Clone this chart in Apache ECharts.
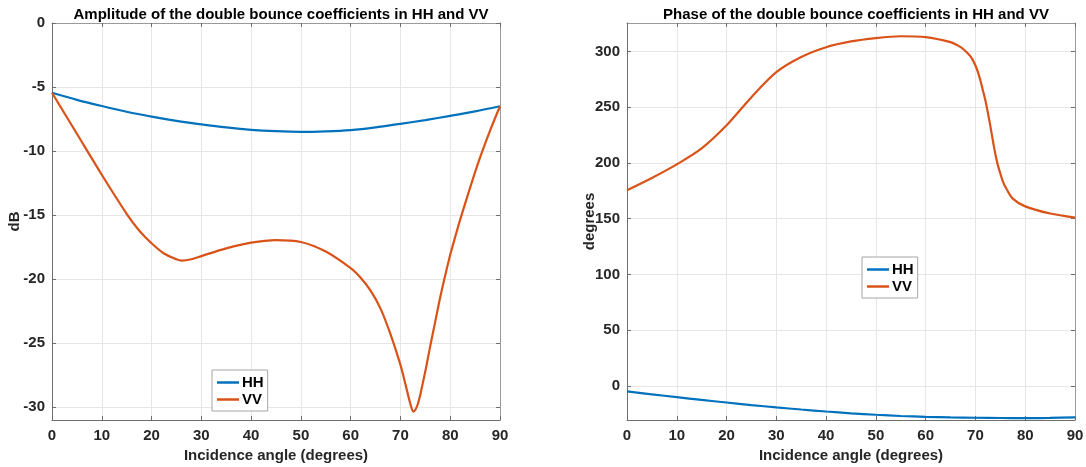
<!DOCTYPE html>
<html>
<head>
<meta charset="utf-8">
<script src="https://cdn.jsdelivr.net/npm/echarts@6/dist/echarts.min.js"></script>
<style>
  html, body { margin: 0; padding: 0; background: #fff; }
  #chart { width: 1086px; height: 467px; }
</style>
</head>
<body>
<div id="chart"></div>
<script>
// Double bounce coefficients versus incidence angle (degrees)

// Amplitude (dB)
const ampHHAngle = [0, 5, 10, 15, 20, 25, 30, 35, 40, 45, 50, 55, 60, 65, 70, 75, 80, 85, 90];
const ampHH = [-5.45, -6.0, -6.48, -6.93, -7.31, -7.64, -7.91, -8.15, -8.34, -8.45, -8.5, -8.46, -8.36, -8.15, -7.87, -7.58, -7.25, -6.9, -6.5];
const ampVVAngle = [0, 5, 10, 15, 17.5, 20, 22.5, 25, 26, 28, 30, 35, 40, 45, 50, 55, 60, 62, 64, 66, 68, 70, 71, 72, 72.6, 73, 73.5, 74, 74.5, 75, 75.5, 76, 77, 78, 79, 80, 81, 82, 84, 86, 88, 90];
const ampVV = [-5.45, -8.65, -11.85, -14.9, -16.2, -17.2, -18.0, -18.45, -18.55, -18.45, -18.2, -17.6, -17.15, -16.95, -17.1, -17.85, -19.15, -19.9, -20.9, -22.3, -24.3, -26.7, -28.2, -29.75, -30.35, -30.2, -29.75, -29.0, -28.1, -27.2, -26.2, -25.2, -23.3, -21.4, -19.7, -18.1, -16.7, -15.35, -12.85, -10.5, -8.4, -6.5];

// Phase (degrees)
const phaseHHAngle = [0, 5, 10, 15, 20, 25, 30, 35, 40, 45, 50, 55, 60, 65, 70, 75, 80, 85, 90];
const phaseHH = [-5, -7.6, -10.1, -12.6, -14.9, -17.2, -19.3, -21.2, -23, -24.6, -25.9, -27, -27.8, -28.3, -28.6, -28.8, -28.9, -28.7, -28.3];
const phaseVVAngle = [0, 5, 10, 15, 20, 25, 30, 35, 40, 45, 50, 55, 60, 65, 66.5, 67.5, 68.2, 69, 69.5, 70, 70.5, 71, 71.5, 72, 72.5, 73, 73.5, 74, 74.5, 75, 75.5, 76.2, 77.5, 80, 85, 90];
const phaseVV = [175.5, 186.5, 198.7, 213, 233.7, 259, 281.4, 295, 303.8, 309, 312, 313.6, 312.8, 308.3, 305.2, 302.4, 299.4, 295.5, 292, 287.4, 281.5, 274, 265, 256, 245, 233, 220, 208, 198, 190.5, 183.5, 177, 168, 161, 154.6, 151];

// Tick labels
const angleTicks = [0, 10, 20, 30, 40, 50, 60, 70, 80, 90];
const ampTicks = [-30, -25, -20, -15, -10, -5, 0];
const phaseTicks = [0, 50, 100, 150, 200, 250, 300];

const titles = ['Amplitude of the double bounce coefficients in HH and VV', 'Phase of the double bounce coefficients in HH and VV'];
const yNames = ['dB', 'degrees'];
const xName = 'Incidence angle (degrees)';
const seriesNames = ['HH', 'VV'];

const HH_COLOR = '#0072BD';
const VV_COLOR = '#D95319';
const TEXT = '#262626';
const FONT = 'Liberation Sans, Arial, Helvetica, sans-serif';
const FS = 15;

const pairs = (xs, ys) => xs.map((x, i) => [x, ys[i]]);

const grids = [
  { left: 52, right: 586, top: 23, bottom: 47, containLabel: false, outerBoundsMode: 'none' },
  { left: 627, right: 11, top: 23, bottom: 47, containLabel: false, outerBoundsMode: 'none' }
];

const tickStyle = { show: true, inside: true, length: 4, lineStyle: { color: '#6e6e6e', width: 1 } };
const gridLine = { show: true, lineStyle: { color: '#e6e6e6', width: 1 } };
const labelText = { color: TEXT, fontFamily: FONT, fontWeight: 'bold', fontSize: FS };

function xAxisPair(gi) {
  const base = {
    type: 'value', gridIndex: gi,
    min: angleTicks[0], max: angleTicks[angleTicks.length - 1]
  };
  return [
    Object.assign({}, base, {
      position: 'bottom',
      name: xName, nameLocation: 'middle', nameGap: 27,
      nameTextStyle: labelText,
      axisLine: { show: true, onZero: false, lineStyle: { color: '#6e6e6e', width: 1 } },
      axisTick: Object.assign({ customValues: angleTicks }, tickStyle),
      axisLabel: Object.assign({ customValues: angleTicks, margin: 8 }, labelText),
      splitLine: gridLine
    }),
    Object.assign({}, base, {
      position: 'top',
      axisLine: { show: true, onZero: false, lineStyle: { color: '#9a9a9a', width: 1 } },
      axisTick: Object.assign({ customValues: angleTicks }, tickStyle),
      axisLabel: { show: false },
      splitLine: { show: false }
    })
  ];
}

function yAxisPair(gi, min, max, ticks) {
  const base = { type: 'value', gridIndex: gi, min: min, max: max };
  return [
    Object.assign({}, base, {
      position: 'left',
      name: yNames[gi], nameLocation: 'middle', nameGap: 30, nameMoveOverlap: false,
      nameTextStyle: labelText,
      axisLine: { show: true, onZero: false, lineStyle: { color: '#6e6e6e', width: 1 } },
      axisTick: Object.assign({ customValues: ticks }, tickStyle),
      axisLabel: Object.assign({ customValues: ticks, margin: 7 }, labelText),
      splitLine: gridLine
    }),
    Object.assign({}, base, {
      position: 'right',
      axisLine: { show: true, onZero: false, lineStyle: { color: '#9a9a9a', width: 1 } },
      axisTick: Object.assign({ customValues: ticks }, tickStyle),
      axisLabel: { show: false },
      splitLine: { show: false }
    })
  ];
}

function line(name, color, xi, yi, data) {
  return {
    name: name, type: 'line', xAxisIndex: xi, yAxisIndex: yi,
    data: data, smooth: 0.3, symbol: 'none', clip: true,
    lineStyle: { color: color, width: 2.2 }, itemStyle: { color: color },
    emphasis: { disabled: true }, z: 3
  };
}

function legend(left, top) {
  return {
    data: seriesNames.map(n => ({ name: n, icon: 'rect' })),
    orient: 'vertical', left: left, top: top,
    itemWidth: 22, itemHeight: 2.5, itemGap: 2,
    padding: [5, 4, 4, 5],
    backgroundColor: '#ffffff', borderColor: '#a6a6a6', borderWidth: 1,
    textStyle: { color: '#000', fontFamily: FONT, fontWeight: 'bold', fontSize: FS, padding: [0, 0, 0, -2] },
    selectedMode: false
  };
}

const xAxes = xAxisPair(0).concat(xAxisPair(1));
const yAxes = yAxisPair(0, -31, 0, ampTicks).concat(yAxisPair(1, -30.6, 325.5, phaseTicks));

const option = {
  animation: false,
  backgroundColor: '#ffffff',
  title: [
    { text: titles[0], left: 276, top: 2, textAlign: 'center',
      textStyle: { color: '#000', fontFamily: FONT, fontWeight: 'bold', fontSize: FS } },
    { text: titles[1], left: 851, top: 2, textAlign: 'center',
      textStyle: { color: '#000', fontFamily: FONT, fontWeight: 'bold', fontSize: FS } }
  ],
  legend: [legend(212, 370), legend(862, 257)],
  grid: grids,
  xAxis: xAxes,
  yAxis: yAxes,
  series: [
    line(seriesNames[0], HH_COLOR, 0, 0, pairs(ampHHAngle, ampHH)),
    line(seriesNames[1], VV_COLOR, 0, 0, pairs(ampVVAngle, ampVV)),
    line(seriesNames[0], HH_COLOR, 2, 2, pairs(phaseHHAngle, phaseHH)),
    line(seriesNames[1], VV_COLOR, 2, 2, pairs(phaseVVAngle, phaseVV))
  ]
};

const chart = echarts.init(document.getElementById('chart'), null, { renderer: 'canvas' });
chart.setOption(option);
</script>
</body>
</html>
